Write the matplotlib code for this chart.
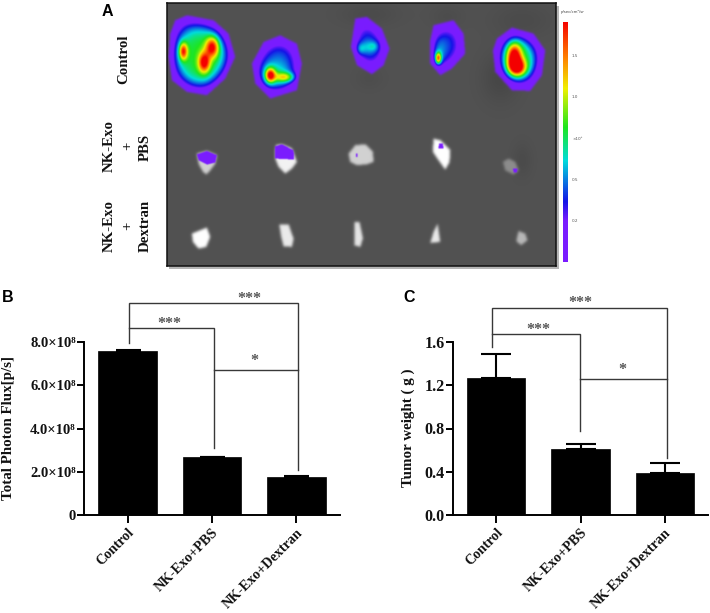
import numpy as np
import matplotlib
matplotlib.use("Agg")
import matplotlib.pyplot as plt
from matplotlib.colors import LinearSegmentedColormap
from matplotlib.path import Path

# ---- chart values
categories = ["Control", "NK-Exo+PBS", "NK-Exo+Dextran"]
flux_values = [7.58e8, 2.68e8, 1.75e8]
flux_errors = [0.03e8, 0.02e8, 0.04e8]
flux_ticks = [0, 2e8, 4e8, 6e8, 8e8]
flux_tick_labels = ["0", "2.0×10⁸", "4.0×10⁸", "6.0×10⁸", "8.0×10⁸"]
weight_values = [1.27, 0.61, 0.39]
weight_errors = [0.22, 0.05, 0.09]
weight_ticks = [0.0, 0.4, 0.8, 1.2, 1.6]
weight_tick_labels = ["0.0", "0.4", "0.8", "1.2", "1.6"]

W, H = 710, 613
SERIF = "Liberation Serif"
fig = plt.figure(figsize=(W / 100, H / 100), dpi=100, facecolor="white")


def px_axes(x0, y0, x1, y1):
    return fig.add_axes([x0 / W, 1 - y1 / H, (x1 - x0) / W, (y1 - y0) / H])


def ftext(x, y, s, **kw):
    fig.text(x / W, 1 - y / H, s, **kw)


# ---- panel A: imaging picture
heat = LinearSegmentedColormap.from_list("heat", [
    (0.00, "#7a1cff"), (0.17, "#7a1cff"), (0.25, "#1414e6"), (0.42, "#00dcdc"),
    (0.56, "#1ee61e"), (0.72, "#f0f000"), (0.85, "#ff8000"), (1.00, "#f50000")])

X0, Y0, X1, Y1 = 167, 3, 556, 266
STEP = 0.5
gx, gy = np.meshgrid(np.arange(X0, X1, STEP), np.arange(Y0, Y1, STEP))
pts = np.column_stack([gx.ravel(), gy.ravel()])
img = np.full(gx.shape + (3,), 0.32)
fy = np.fft.fftfreq(gx.shape[0], STEP)[:, None]
fx = np.fft.fftfreq(gx.shape[1], STEP)[None, :]


def blur(a, sigma):
    k = np.exp(-2 * (np.pi * sigma) ** 2 * (fx ** 2 + fy ** 2))
    return np.real(np.fft.ifft2(np.fft.fft2(a) * k))


def gauss(cx, cy, sx, sy, power=2):
    r = np.sqrt(((gx - cx) / sx) ** 2 + ((gy - cy) / sy) ** 2)
    return np.exp(-0.5 * r ** power)


def poly(verts, ox, oy):
    v = np.array(verts, float) / 3 + (ox, oy)
    return Path(v).contains_points(pts).reshape(gx.shape).astype(float)


def paint(mask, color):
    m = np.clip(mask, 0, 1)[..., None]
    img[:] = img * (1 - m) + np.asarray(color) * m


for cx, cy, sx, sy, a in [(500, 78, 13, 17, 0.13), (522, 20, 22, 12, 0.08),
                          (369, 14, 20, 8, 0.08), (447, 16, 12, 8, 0.06),
                          (522, 160, 7, 12, 0.08), (369, 78, 10, 8, 0.05)]:
    img *= (1 - a * gauss(cx, cy, sx, sy))[..., None]

violet = heat(0.0)[:3]
tissue = [
    ([(275, 310), (320, 292), (330, 320), (318, 350), (295, 355), (278, 335)], 1.0),
    ([(537, 282), (565, 282), (580, 325), (575, 350), (550, 348), (543, 320)], .92),
    ([(763, 275), (778, 275), (788, 325), (780, 350), (762, 345)], .9),
    ([(1012, 280), (1020, 335), (990, 338), (1000, 305)], .92),
    ([(1255, 302), (1275, 310), (1282, 330), (1262, 345), (1248, 332)], .72),
    ([(290, 70), (320, 62), (350, 75), (345, 100), (330, 120), (318, 132), (308, 125), (295, 100)], .82),
    ([(527, 45), (545, 42), (575, 55), (590, 95), (575, 115), (555, 130), (535, 110), (525, 85)], .95),
    ([(745, 70), (765, 45), (795, 42), (818, 65), (820, 95), (800, 102), (770, 105), (750, 95)], .82),
    ([(1000, 25), (1020, 30), (1050, 60), (1048, 95), (1035, 118), (1015, 90), (998, 65)], 1.0),
    ([(1208, 95), (1225, 85), (1245, 95), (1255, 120), (1240, 133), (1215, 120)], .55),
]
for verts, c in tissue:
    paint(blur(poly(verts, 100, 130), 1.3), (c, c, c))
for verts in [[(290, 72), (320, 62), (350, 75), (345, 97), (320, 103), (295, 90)],
              [(525, 48), (545, 42), (580, 60), (582, 88), (525, 85)],
              [(1016, 40), (1028, 40), (1030, 55), (1015, 55)],
              [(1238, 115), (1252, 115), (1250, 126), (1240, 126)],
              [(768, 70), (772, 70), (772, 80), (768, 80)]]:
    paint(blur(poly(verts, 100, 130), 0.5), violet)

# luminescent tumours, row 1: outline, then hot spots (cx, cy, sx, sy, amp, power)
tumours = [
    ([(225, 60), (260, 45), (340, 60), (385, 100), (405, 170), (375, 235), (320, 285), (260, 275),
      (215, 240), (205, 170), (210, 100)],
     [(201, 56, 22, 24, .22, 4), (183, 51, 3, 6, .52, 2), (212, 47, 4.5, 7, .52, 2), (204, 62, 4, 7, .54, 2)]),
    ([(490, 125), (540, 105), (590, 130), (605, 190), (590, 270), (510, 295), (465, 250), (455, 190)],
     [(274, 75, 11, 9, .16, 2), (270, 75, 3.5, 5, .62, 2), (285, 77, 7, 3.5, .38, 2)]),
    ([(765, 55), (800, 50), (845, 85), (868, 145), (850, 195), (815, 222), (770, 195), (752, 140)],
     [(366, 47, 7, 5, .12, 2), (374, 46, 3.5, 3.5, .10, 2), (360, 49, 3, 4, .12, 2)]),
    ([(1000, 75), (1060, 60), (1090, 100), (1095, 160), (1055, 205), (1020, 225), (990, 190), (990, 120)],
     [(438, 52, 5, 11, .14, 2), (438, 58, 2.2, 4, .62, 2)]),
    ([(1190, 115), (1235, 82), (1300, 100), (1335, 150), (1325, 225), (1290, 272), (1235, 270),
      (1185, 215), (1178, 150)],
     [(518, 59, 14, 16, .20, 4), (514, 56, 5, 9, .60, 2), (517, 67, 6, 6, .58, 2)]),
]
for verts, spots in tumours:
    mask = poly(verts, 100, 0)
    val = 0.33 * np.clip(2 * blur(mask, 9) - 1, 0, 1)
    for cx, cy, sx, sy, amp, pw in spots:
        val = val + amp * gauss(cx, cy, sx, sy, pw)
    edge = blur(mask, 1.0)
    colors = heat(np.clip(val, 0, 1))[..., :3]
    img[:] = img * (1 - edge[..., None]) + colors * edge[..., None]

img = np.clip(img, 0, 1)

# picture shadow + frame
sh = px_axes(X0 + 2, Y0 + 3, X1 + 3, Y1 + 3)
sh.set_facecolor("#b5b5b5")
sh.set_xticks([]); sh.set_yticks([])
for s in sh.spines.values():
    s.set_visible(False)
ax_a = px_axes(X0, Y0, X1, Y1)
ax_a.imshow(img, extent=(X0, X1, Y1, Y0), aspect="auto", interpolation="bilinear")
ax_a.set_xticks([]); ax_a.set_yticks([])
for s in ax_a.spines.values():
    s.set_linewidth(1.1)
    s.set_color("#101010")

# scale bar
cb = px_axes(563, 22, 568, 262)
cb.imshow(np.linspace(1, 0, 256)[:, None], cmap=heat, aspect="auto")
cb.axis("off")
ftext(573, 12.5, "p/sec/cm²/sr", fontsize=2.8, ha="center", va="center", color="#444444")
for yy, lab in zip([56, 97, 139, 180, 221], ["1.5", "1.0", "×10⁸", "0.5", "0.2"]):
    ftext(572, yy, lab, fontsize=3, ha="left", va="center", color="#555555")

# labels of panel A
lab = dict(family=SERIF, weight="bold", fontsize=10.7, rotation=90, ha="center", va="center", color="#111111")
ftext(124, 59, "Control", **lab)
ftext(109, 146, "NK-Exo", **lab)
ftext(128, 146, "+", **lab)
ftext(145, 147, "PBS", **lab)
ftext(109, 226, "NK-Exo", **lab)
ftext(128, 226, "+", **lab)
ftext(145, 226, "Dextran", **lab)

pan = dict(family="Liberation Sans", weight="bold", fontsize=11.5, ha="center", va="center", color="black")
ftext(107, 11, "A", **pan)
ftext(8, 297, "B", **pan)
ftext(409, 297, "C", **pan)


# ---- panels B, C
def bar_panel(box, values, errors, ticks, ticklabels, ylabel, ylabel_x, cap, tick_fs):
    ax = px_axes(*box)
    x = np.arange(len(values))
    ax.bar(x, values, width=0.69, color="black", edgecolor="black", linewidth=0.5, zorder=3)
    ax.errorbar(x, values, yerr=[np.zeros(len(errors)), errors], fmt="none", ecolor="black",
                elinewidth=1.5, capsize=cap, capthick=1.5, zorder=2, clip_on=False)
    ax.set_xlim(-0.515, 2.515)
    ax.set_ylim(0, ticks[-1])
    ax.set_yticks(ticks)
    ax.set_yticklabels(ticklabels, family=SERIF, weight="bold", fontsize=tick_fs, color="#111111")
    ax.set_xticks(x)
    ax.set_xticklabels(categories, family=SERIF, weight="bold", fontsize=10.2, color="#111111",
                       rotation=45, ha="right", va="top", rotation_mode="anchor")
    ax.tick_params(axis="y", length=5, width=1.4, pad=1)
    ax.tick_params(axis="x", length=6, width=1.4, pad=2)
    for s in ("top", "right"):
        ax.spines[s].set_visible(False)
    for s in ("left", "bottom"):
        ax.spines[s].set_linewidth(1.4)
    ftext(ylabel_x, 428, ylabel, family=SERIF, weight="bold", fontsize=10.8, rotation=90,
          ha="center", va="center", color="#111111")
    return ax


def brackets(ax, segs, stars):
    for xs, ys in segs:
        ax.plot(xs, ys, color="#383838", lw=1.0, clip_on=False, solid_joinstyle="miter", zorder=5)
    for x, y, s in stars:
        ax.text(x, y, s, family=SERIF, weight="bold", fontsize=11.5, color="#555555",
                ha="center", va="center", clip_on=False)


ax_b = bar_panel((84, 342, 340, 515), flux_values, flux_errors, flux_ticks, flux_tick_labels,
                 "Total Photon Flux[p/s]", 9, 9, 10.5)
brackets(ax_b,
         [([0.02, 0.02, 2.02, 2.02], [7.95e8, 9.79e8, 9.79e8, 2.08e8]),
          ([0.02, 1.02, 1.02], [8.65e8, 8.65e8, 3.1e8]),
          ([1.02, 2.02], [6.7e8, 6.7e8])],
         [(1.44, 10.0e8, "***"), (0.5, 8.85e8, "***"), (1.5, 7.1e8, "*")])

ax_c = bar_panel((453, 342, 708, 515), weight_values, weight_errors, weight_ticks, weight_tick_labels,
                 "Tumor weight ( g )", 408, 11, 11.5)
brackets(ax_c,
         [([-0.05, -0.05, 2.03, 2.03], [1.554, 1.914, 1.914, 0.527]),
          ([-0.05, 0.99, 0.99], [1.674, 1.674, 0.777]),
          ([0.99, 2.03], [1.258, 1.258])],
         [(1.0, 1.96, "***"), (0.5, 1.71, "***"), (1.5, 1.34, "*")])

fig.savefig("out.png", dpi=100, facecolor="white")
